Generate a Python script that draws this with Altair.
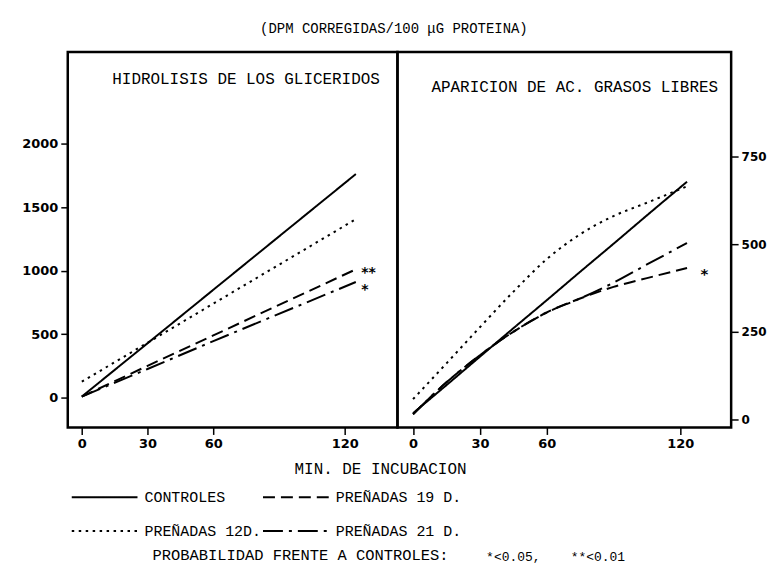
import altair as alt
import pandas as pd

# ---------------- data ----------------
series_names = ["CONTROLES", "PREÑADAS 19 D.", "PREÑADAS 12D.", "PREÑADAS 21 D."]

# left panel: HIDROLISIS DE LOS GLICERIDOS (DPM / 100 ug proteina)
left_minutes = [0, 30, 60, 125]
left_controles = [8, 428, 849, 1760]
left_p12 = [125, 432, 740, 1405]
left_p19 = [8, 250, 490, 1010]
left_p21 = [8, 225, 445, 910]

# right panel: APARICION DE AC. GRASOS LIBRES
right_minutes = [0, 15, 30, 45, 60, 75, 90, 105, 123]
right_controles = [18, 98, 179, 260, 340, 421, 501, 582, 678]
right_p12 = [58, 160, 263, 364, 457, 528, 580, 618, 665]
right_p19 = [15, 106, 183, 250, 305, 345, 378, 403, 432]
right_p21 = [15, 106, 183, 250, 305, 345, 390, 442, 503]

# significance marks
left_sig_x = [127.5, 127.5]
left_sig_y = [1010, 880]
left_sig_text = ["**", "*"]
right_sig_x = [129]
right_sig_y = [427]
right_sig_text = ["*"]

x_ticks = [0, 30, 60, 120]
left_y_ticks = [0, 500, 1000, 1500, 2000]
right_y_ticks = [0, 250, 500, 750]

main_title = "(DPM CORREGIDAS/100 μG PROTEINA)"
left_title = "HIDROLISIS DE LOS GLICERIDOS"
right_title = "APARICION DE AC. GRASOS LIBRES"
x_title = "MIN. DE INCUBACION"
prob_label = "PROBABILIDAD FRENTE A CONTROLES:"
prob_values = ["*<0.05,", "**<0.01"]

dash_range = [[1, 0], [12, 6], [2.5, 4.5], [20, 6, 3, 6]]

# ---------------- tables ----------------
def long_table(minutes, columns):
    rows = []
    for name, vals in zip(series_names, columns):
        for m, v in zip(minutes, vals):
            rows.append({"min": m, "value": v, "serie": name})
    return pd.DataFrame(rows)

left_df = long_table(left_minutes, [left_controles, left_p19, left_p12, left_p21])
right_df = long_table(right_minutes, [right_controles, right_p19, right_p12, right_p21])
left_sig = pd.DataFrame({"min": left_sig_x, "value": left_sig_y, "t": left_sig_text})
right_sig = pd.DataFrame({"min": right_sig_x, "value": right_sig_y, "t": right_sig_text})

MONO = "Liberation Mono"

dash_enc = alt.StrokeDash(
    "serie:N",
    scale=alt.Scale(domain=series_names, range=dash_range),
    legend=alt.Legend(
        title=None, orient="none", legendX=3, legendY=437, columns=2,
        direction="horizontal", symbolType="stroke", symbolSize=4356,
        symbolStrokeWidth=2, symbolStrokeColor="black", clipHeight=20,
        labelFont=MONO, labelFontSize=15, labelColor="black",
        labelOffset=6, rowPadding=14, columnPadding=0, labelLimit=0,
    ),
)

axis_common = dict(domain=False, grid=False, ticks=True, tickColor="black",
                   tickWidth=1.5, tickSize=7, labelColor="black",
                   labelFont="DejaVu Sans", labelFontWeight="bold",
                   labelPadding=3, title=None, format="d")

# ---------------- left panel ----------------
lx = alt.X("min:Q", scale=alt.Scale(domain=[-6.4, 144], nice=False, zero=False),
           axis=alt.Axis(values=x_ticks, labelFontSize=13, **axis_common))
ly = alt.Y("value:Q", scale=alt.Scale(domain=[-235, 2722], nice=False, zero=False),
           axis=alt.Axis(values=left_y_ticks, labelFontSize=13, **axis_common))

left_lines = alt.Chart(left_df).mark_line(color="black", strokeWidth=2, strokeCap="butt").encode(
    x=lx, y=ly, strokeDash=dash_enc, order="min:Q")
left_stars = alt.Chart(left_sig).mark_text(
    font="DejaVu Sans", fontWeight="bold", fontSize=14, align="left",
    baseline="middle", dy=4, color="black").encode(x="min:Q", y="value:Q", text="t:N")
left_ttl = alt.Chart(pd.DataFrame({"t": [left_title]})).mark_text(
    font=MONO, fontSize=16, color="black", align="center", baseline="middle").encode(
    x=alt.value(179), y=alt.value(27), text="t:N")
xttl = alt.Chart(pd.DataFrame({"t": [x_title]})).mark_text(
    font=MONO, fontSize=16, color="black", align="center", baseline="middle").encode(
    x=alt.value(314), y=alt.value(419), text="t:N")
prob1 = alt.Chart(pd.DataFrame({"t": [prob_label]})).mark_text(
    font=MONO, fontSize=15.5, color="black", align="left", baseline="middle").encode(
    x=alt.value(85), y=alt.value(505), text="t:N")
prob2 = alt.Chart(pd.DataFrame({"t": prob_values, "px": [420, 505]})).mark_text(
    font=MONO, fontSize=13, color="black", align="left", baseline="middle").encode(
    x=alt.X("px:Q", scale=None), y=alt.value(507), text="t:N")

left = alt.layer(left_lines, left_stars, left_ttl, xttl, prob1, prob2).properties(
    width=331, height=377)

# ---------------- right panel ----------------
rx = alt.X("min:Q", scale=alt.Scale(domain=[-7.0, 142.8], nice=False, zero=False),
           axis=alt.Axis(values=x_ticks, labelFontSize=13, **axis_common))
ry = alt.Y("value:Q", scale=alt.Scale(domain=[-22.7, 1048], nice=False, zero=False),
           axis=alt.Axis(values=right_y_ticks, orient="right", labelFontSize=12, **axis_common))

right_lines = alt.Chart(right_df).mark_line(color="black", strokeWidth=2, strokeCap="butt",
                                            interpolate="monotone").encode(
    x=rx, y=ry, strokeDash=dash_enc, order="min:Q")
right_stars = alt.Chart(right_sig).mark_text(
    font="DejaVu Sans", fontWeight="bold", fontSize=15, align="left",
    baseline="middle", dy=4, color="black").encode(x="min:Q", y="value:Q", text="t:N")
right_ttl = alt.Chart(pd.DataFrame({"t": [right_title]})).mark_text(
    font=MONO, fontSize=16, color="black", align="center", baseline="middle").encode(
    x=alt.value(178), y=alt.value(35), text="t:N")

right = alt.layer(right_lines, right_stars, right_ttl).properties(width=335, height=377)

chart = (
    alt.hconcat(left, right, spacing=0, bounds="flush")
    .resolve_scale(x="independent", y="independent", strokeDash="shared")
    .resolve_axis(x="independent", y="independent")
    .properties(
        title=alt.TitleParams(main_title, font=MONO, fontSize=14, fontWeight="normal",
                              color="black", anchor="middle", offset=15),
        padding={"left": 12, "top": 12, "right": 0, "bottom": 0},
        background="white",
    )
    .configure_view(stroke="black", strokeWidth=2.5)
)

chart.save("out.html", embed_options={"renderer": "svg", "actions": False})
